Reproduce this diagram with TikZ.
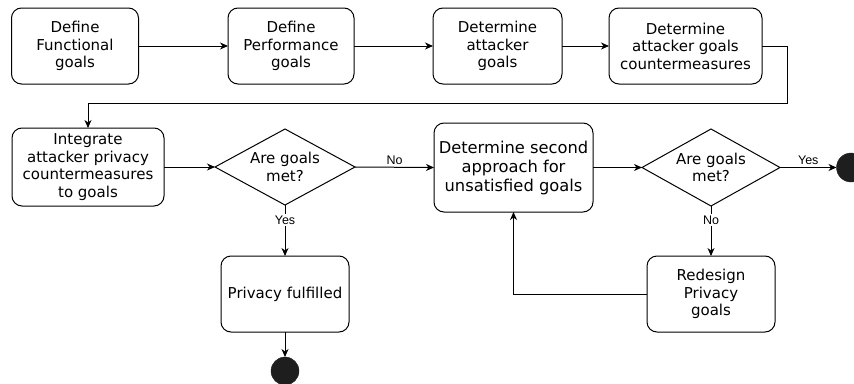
\documentclass[tikz,border=0pt]{standalone}
\usepackage{fontspec}
\setmainfont{DejaVu Sans}
\newfontfamily\labelfont{Liberation Sans}
\usetikzlibrary{arrows.meta,shapes.geometric}
\definecolor{inkdark}{HTML}{1E1E1E}

\begin{document}
\begin{tikzpicture}[x=1pt,y=-1pt,
  stepbox/.style={draw, line width=1pt, rounded corners=10pt, align=center,
    inner sep=0pt, outer sep=0pt, font=\fontsize{15}{17.5}\selectfont},
  decision/.style={draw, diamond, aspect=1.84, line width=1pt, align=center,
    inner sep=0pt, outer sep=0pt, font=\fontsize{15}{17.5}\selectfont},
  endpoint/.style={circle, fill=inkdark, draw=inkdark, inner sep=0pt, outer sep=0pt},
  flow/.style={line width=1pt, -{Stealth[length=8pt,width=7pt,inset=2.5pt]}},
  branch/.style={font=\labelfont\fontsize{12.5}{14}\selectfont, inner sep=1.5pt}
]
\useasboundingbox (0,0) rectangle (854,383);

% top row
\node[stepbox, minimum width=127, minimum height=76] (b1) at (75,46) {Define\\Functional\\goals};
\node[stepbox, minimum width=126, minimum height=76] (b2) at (291,46) {Define\\Performance\\goals};
\node[stepbox, minimum width=129, minimum height=76] (b3) at (497.5,46) {Determine\\attacker\\goals};
\node[stepbox, minimum width=153, minimum height=76] (b4) at (685.5,46) {Determine\\attacker goals\\countermeasures};

% middle row
\node[stepbox, minimum width=152, minimum height=78] (b5) at (88,167) {Integrate\\attacker privacy\\countermeasures\\to goals};
\node[decision, minimum width=140, minimum height=76] (d1) at (285,167) {Are goals\\met?};
\node[stepbox, minimum width=159, minimum height=89,
      font=\fontsize{16.3}{19}\selectfont] (b6) at (513.5,167.5) {Determine second\\approach for\\unsatisfied goals};
\node[decision, minimum width=138, minimum height=77] (d2) at (711,167.5) {Are goals\\met?};
\node[endpoint, minimum size=29] (e2) at (851,167.5) {};

% bottom row
\node[stepbox, minimum width=128, minimum height=76] (priv) at (285,294) {Privacy fulfilled};
\node[stepbox, minimum width=128, minimum height=76] (redo) at (711,294) {Redesign\\Privacy\\goals};
\node[endpoint, minimum size=28] (e1) at (285,371) {};

\coordinate (turn) at (787,103);

% connectors
\draw[flow] (b1) -- (b2);
\draw[flow] (b2) -- (b3);
\draw[flow] (b3) -- (b4);
\draw[flow] (b4.east) -| (turn) -| (b5.north);
\draw[flow] (b5) -- (d1);
\draw[flow] (d1.east) -- node[branch, above=1pt] {No} (b6.west);
\draw[flow] (d1.south) -- node[branch, fill=white, pos=0.3] {Yes} (priv.north);
\draw[flow] (b6.east) -- (d2.west);
\draw[flow] (d2.east) -- node[branch, above=1pt] {Yes} (e2.west);
\draw[flow] (d2.south) -- node[branch, fill=white, pos=0.28] {No} (redo.north);
\draw[flow] (redo.west) -| (b6.south);
\draw[flow] (priv.south) -- (e1.north);
\end{tikzpicture}
\end{document}
